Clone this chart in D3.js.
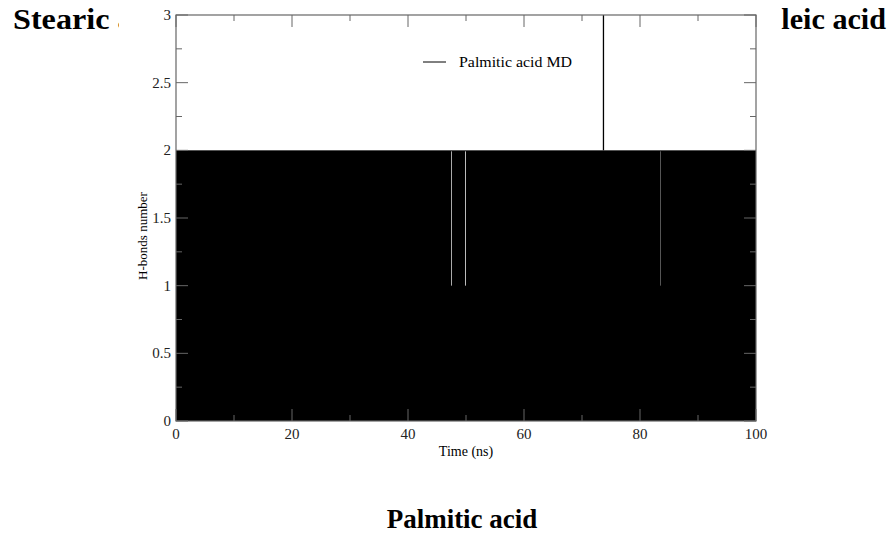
<!DOCTYPE html>
<html>
<head>
<meta charset="UTF-8">
<script src="https://d3js.org/d3.v7.min.js"></script>
<style>
  body { margin: 0; background: #fff; }
  svg { display: block; }
  text { font-family: "Liberation Serif", "Times New Roman", serif; }
</style>
</head>
<body>
<svg id="chart" width="892" height="536"></svg>
<script>
// data
const timeDomain = [0, 100]
const hbondDomain = [0, 3]
const xTicks = [0, 20, 40, 60, 80, 100]
const xMinorTicks = [10, 30, 50, 70, 90]
const yTicks = [0, 0.5, 1, 1.5, 2, 2.5, 3]
const yMinorTicks = [0.25, 0.75, 1.25, 1.75, 2.25, 2.75]
const baseHBonds = 2          // trace sits at 2 for the whole run (dense fill to 0)
const dropTimes = [47.4, 49.9, 83.45]   // short dips down to 1
const dropValue = 1
const dropColors = ['#aaa', '#bbb', '#555']
const spikeTimes = [73.7]      // single spike up to 3
const spikeValue = 3

const svg = d3.select('#chart')
const margin = { left: 176, right: 136, top: 15, bottom: 115 }
const innerW = 892 - margin.left - margin.right
const innerH = 536 - margin.top - margin.bottom

// the figure's white box sits on top of the side titles, so clip them
const defs = svg.append('defs')
defs.append('clipPath').attr('id', 'clipL')
  .append('rect').attr('x', 0).attr('y', 0).attr('width', 119).attr('height', 60)
defs.append('clipPath').attr('id', 'clipR')
  .append('rect').attr('x', 781).attr('y', 0).attr('width', 111).attr('height', 60)

svg.append('g').attr('clip-path', 'url(#clipL)')
  .append('g').attr('transform', 'translate(13,29) scale(1.11,1)')
  .append('text')
  .style('font-size', '29px').style('font-weight', 'bold')
  .text('Stearic acid')
svg.append('g').attr('clip-path', 'url(#clipR)')
  .append('g').attr('transform', 'translate(886,29) scale(1.04,1)')
  .append('text').attr('text-anchor', 'end')
  .style('font-size', '29px').style('font-weight', 'bold')
  .text('Oleic acid')

svg.append('text').attr('x', 462).attr('y', 528)
  .attr('text-anchor', 'middle')
  .style('font-size', '27px').style('font-weight', 'bold')
  .text('Palmitic acid')

const x = d3.scaleLinear().domain(timeDomain).range([0, innerW])
const y = d3.scaleLinear().domain(hbondDomain).range([innerH, 0])

const g = svg.append('g').attr('transform', `translate(${margin.left},${margin.top})`)

// filled trace
g.append('rect')
  .attr('x', x(timeDomain[0])).attr('y', y(baseHBonds))
  .attr('width', x(timeDomain[1]) - x(timeDomain[0]))
  .attr('height', y(0) - y(baseHBonds))
  .style('fill', '#000')

g.selectAll('.drop').data(dropTimes).enter().append('line')
  .attr('class', 'drop')
  .attr('x1', d => Math.round(x(d)) + 0.5).attr('x2', d => Math.round(x(d)) + 0.5)
  .attr('y1', y(baseHBonds) + 1).attr('y2', y(dropValue))
  .style('stroke', (d, i) => dropColors[i]).style('stroke-width', 1)

g.selectAll('.spike').data(spikeTimes).enter().append('line')
  .attr('class', 'spike')
  .attr('x1', d => x(d)).attr('x2', d => x(d))
  .attr('y1', y(baseHBonds)).attr('y2', y(spikeValue))
  .style('stroke', '#000').style('stroke-width', 1.3)

// axes: ticks pointing inward on all four sides
const axisColor = '#666'
const frame = g.append('g')
frame.append('rect').attr('x', 0).attr('y', 0).attr('width', innerW).attr('height', innerH)
  .style('fill', 'none').style('stroke', axisColor).style('stroke-width', 1.2)

function ticks(values, len, horizontal) {
  values.forEach(v => {
    if (horizontal) {
      frame.append('line').attr('x1', x(v)).attr('x2', x(v)).attr('y1', innerH).attr('y2', innerH - len)
        .style('stroke', axisColor)
      frame.append('line').attr('x1', x(v)).attr('x2', x(v)).attr('y1', 0).attr('y2', len)
        .style('stroke', axisColor)
    } else {
      frame.append('line').attr('x1', 0).attr('x2', len).attr('y1', y(v)).attr('y2', y(v))
        .style('stroke', axisColor)
      frame.append('line').attr('x1', innerW).attr('x2', innerW - len).attr('y1', y(v)).attr('y2', y(v))
        .style('stroke', axisColor)
    }
  })
}
ticks(xTicks, 12, true)
ticks(xMinorTicks, 6, true)
ticks(yTicks, 12, false)
ticks(yMinorTicks, 6, false)

g.selectAll('.xl').data(xTicks).enter().append('text')
  .attr('x', d => x(d)).attr('y', innerH + 18)
  .attr('text-anchor', 'middle')
  .style('font-size', '15px').style('fill', '#222')
  .text(d => d)

g.selectAll('.yl').data(yTicks).enter().append('text')
  .attr('x', -5).attr('y', d => y(d) + 5)
  .attr('text-anchor', 'end')
  .style('font-size', '15px').style('fill', '#222')
  .text(d => d)

g.append('text').attr('x', innerW / 2).attr('y', innerH + 35)
  .attr('text-anchor', 'middle').style('font-size', '14px')
  .text('Time (ns)')

g.append('text').attr('transform', 'rotate(-90)')
  .attr('x', -(236 - margin.top)).attr('y', -29)
  .attr('text-anchor', 'middle').style('font-size', '13px')
  .text('H-bonds number')

// legend
g.append('line').attr('x1', 247).attr('x2', 270).attr('y1', 47).attr('y2', 47)
  .style('stroke', '#000')
g.append('text').attr('x', 283).attr('y', 52)
  .attr('textLength', 113).attr('lengthAdjust', 'spacingAndGlyphs')
  .style('font-size', '14px').text('Palmitic acid MD')
</script>
</body>
</html>
